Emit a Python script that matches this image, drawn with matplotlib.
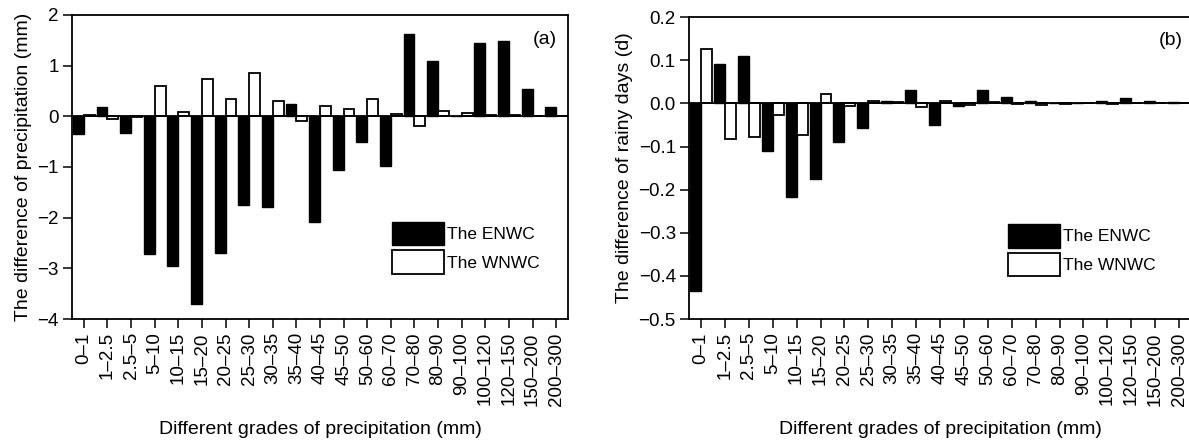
import matplotlib.pyplot as plt
import numpy as np

plt.rcParams['font.family'] = ['Liberation Sans', 'DejaVu Sans']

grades = ['0–1', '1–2.5', '2.5–5', '5–10', '10–15', '15–20', '20–25', '25–30',
          '30–35', '35–40', '40–45', '45–50', '50–60', '60–70', '70–80', '80–90',
          '90–100', '100–120', '120–150', '150–200', '200–300']

# (a) difference of precipitation (mm)
precip_enwc = [-0.34, 0.18, -0.33, -2.72, -2.95, -3.70, -2.70, -1.75, -1.78, 0.24,
               -2.09, -1.05, -0.51, -0.99, 1.63, 1.09, 0.0, 1.45, 1.49, 0.53, 0.18]
precip_wnwc = [0.02, -0.05, -0.01, 0.59, 0.08, 0.74, 0.35, 0.85, 0.30, -0.09,
               0.21, 0.15, 0.35, 0.04, -0.19, 0.11, 0.06, 0.02, 0.02, 0.0, 0.0]

# (b) difference of rainy days (d)
days_enwc = [-0.435, 0.091, 0.111, -0.110, -0.218, -0.176, -0.089, -0.056, 0.005, 0.030,
             -0.050, -0.006, 0.030, 0.014, 0.006, 0.002, 0.002, 0.005, 0.012, 0.005, 0.003]
days_wnwc = [0.126, -0.083, -0.079, -0.027, -0.073, 0.022, -0.005, 0.005, 0.004, -0.008,
             0.005, -0.003, 0.004, -0.002, -0.003, -0.002, 0.002, -0.002, 0.002, 0.002, 0.002]

fig = plt.figure(figsize=(11.89, 4.40), dpi=100)
ax1 = fig.add_axes([0.0606, 0.275, 0.4171, 0.691])
ax2 = fig.add_axes([0.5795, 0.275, 0.4222, 0.686])

x = np.arange(len(grades))
w = 0.46


def draw(ax, enwc, wnwc, ylim, yticks, fmt, ylabel, tag, leg_anchor):
    ax.bar(x - w / 2, enwc, w, color='black', edgecolor='black', lw=1, label='The ENWC')
    ax.bar(x + w / 2, wnwc, w, color='white', edgecolor='black', lw=1.3, label='The WNWC')
    ax.axhline(0, color='black', lw=1.3)
    ax.set_xlim(-0.5, len(grades) - 0.5)
    ax.set_ylim(*ylim)
    ax.set_yticks(yticks)
    ax.set_yticklabels([fmt.format(v).replace('-', '−') for v in yticks])
    ax.set_xticks(x)
    ax.set_xticklabels(grades, rotation=90)
    ax.tick_params(direction='out', length=6.5, width=1.1, labelsize=13.5, pad=3,
                   top=False, right=False)
    for s in ax.spines.values():
        s.set_linewidth(1.3)
    ax.set_ylabel(ylabel, fontsize=14, labelpad=4)
    ax.set_xlabel('Different grades of precipitation (mm)', fontsize=14, labelpad=11)
    ax.text(tag[0], tag[1], tag[2], transform=ax.transAxes, fontsize=14, ha='center', va='center')
    ax.legend(loc='center left', bbox_to_anchor=leg_anchor, frameon=False, fontsize=12.5,
              handlelength=3.0, handleheight=1.7, labelspacing=0.3, handletextpad=0.2,
              borderpad=0, borderaxespad=0)


draw(ax1, precip_enwc, precip_wnwc, (-4, 2), [2, 1, 0, -1, -2, -3, -4], '{:g}',
     'The difference of precipitation (mm)', (0.953, 0.918, '(a)'), (0.645, 0.235))
draw(ax2, days_enwc, days_wnwc, (-0.5, 0.2), [0.2, 0.1, 0.0, -0.1, -0.2, -0.3, -0.4, -0.5], '{:.1f}',
     'The difference of rainy days (d)', (0.96, 0.924, '(b)'), (0.635, 0.228))

plt.savefig('out.png', dpi=100)
